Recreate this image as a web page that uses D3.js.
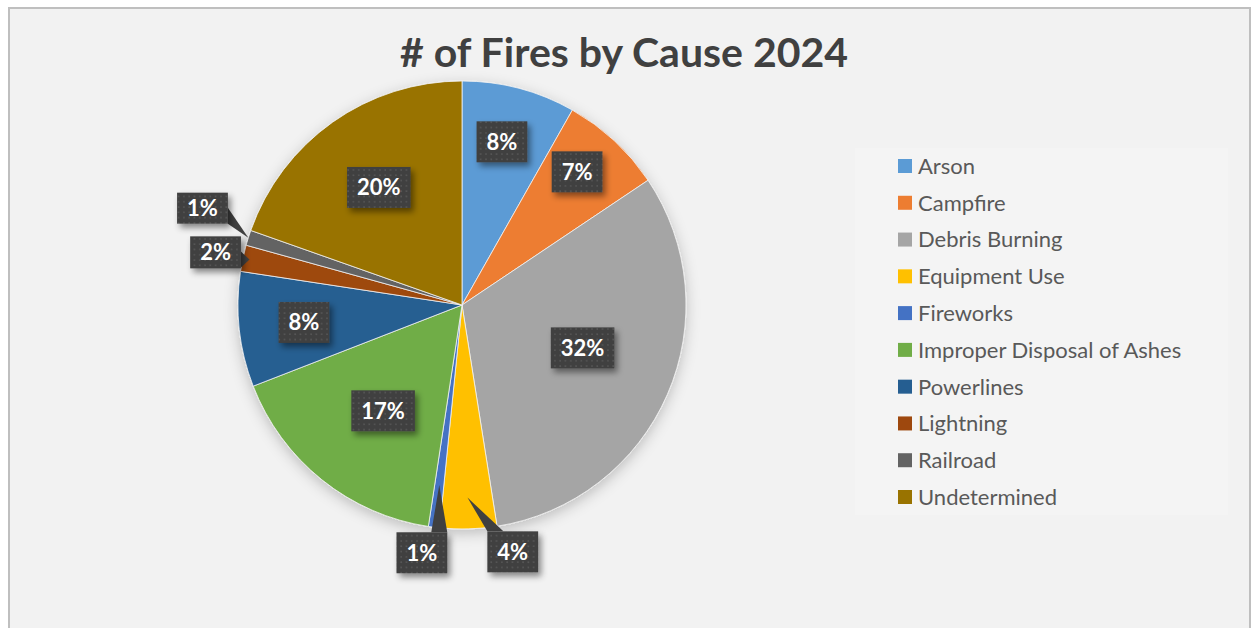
<!DOCTYPE html>
<html>
<head>
<meta charset="utf-8">
<script src="https://cdn.jsdelivr.net/npm/d3@7"></script>
<style>
  body { margin: 0; background: #ffffff; }
  svg { display: block; font-family: Lato, "Open Sans", sans-serif; }
</style>
</head>
<body>
<div id="chart"></div>
<script>
// data (share of fires, in %)
var causes = ["Arson", "Campfire", "Debris Burning", "Equipment Use", "Fireworks",
              "Improper Disposal of Ashes", "Powerlines", "Lightning", "Railroad", "Undetermined"];
var shares = [8.2, 7.4, 31.9, 4.1, 0.8, 16.7, 8.3, 1.9, 1.1, 19.6];
var colors = ["#5B9BD5", "#ED7D31", "#A5A5A5", "#FFC000", "#4472C4",
              "#70AD47", "#255E91", "#9E480E", "#636363", "#997300"];
var title = "# of Fires by Cause 2024";

var W = 1252, H = 628;
var cx = 462, cy = 305, R = 224;

// label placement: radius, angle nudge (deg), box height, callout tip radius
var labelLayout = {
  "Arson": {r: 168, da: -1},
  "Campfire": {r: 176, da: -2},
  "Debris Burning": {r: 128, da: -4},
  "Equipment Use": {r: 252, da: -10, tip: 0.86},
  "Fireworks": {r: 251, da: 2, tip: 0.81},
  "Improper Disposal of Ashes": {r: 132, da: -2},
  "Powerlines": {r: 159, da: 0},
  "Lightning": {r: 252, da: 0, h: 32, tip: 0.97},
  "Railroad": {r: 277, da: 3, h: 31, tip: 1.0},
  "Undetermined": {r: 144, da: 0}
};

var svg = d3.select("#chart").append("svg")
    .attr("width", W)
    .attr("height", H);

var defs = svg.append("defs");

// dotted fill for the label boxes
var pat = defs.append("pattern")
    .attr("id", "dots")
    .attr("width", 5.3)
    .attr("height", 5.3)
    .attr("patternUnits", "userSpaceOnUse");
pat.append("rect").attr("width", 5.3).attr("height", 5.3).attr("fill", "#404040");
pat.append("rect").attr("x", 2).attr("y", 2).attr("width", 1.6).attr("height", 1.6).attr("fill", "#575757");

var sh = defs.append("filter").attr("id", "boxShadow")
    .attr("x", "-30%").attr("y", "-30%").attr("width", "170%").attr("height", "180%");
sh.append("feDropShadow").attr("dx", 3).attr("dy", 4).attr("stdDeviation", 3)
    .attr("flood-color", "#000").attr("flood-opacity", 0.45);

var pieSh = defs.append("filter").attr("id", "pieShadow")
    .attr("x", "-20%").attr("y", "-20%").attr("width", "140%").attr("height", "140%");
pieSh.append("feDropShadow").attr("dx", 0).attr("dy", 4).attr("stdDeviation", 7)
    .attr("flood-color", "#000").attr("flood-opacity", 0.22);

//background + frame
svg.append("rect")
    .attr("x", 9).attr("y", 8)
    .attr("width", 1241).attr("height", 640)
    .attr("fill", "#f2f2f2")
    .attr("stroke", "#bfbfbf")
    .attr("stroke-width", 2);

//title
svg.append("text")
    .attr("x", 624)
    .attr("y", 67)
    .attr("text-anchor", "middle")
    .attr("font-size", 41)
    .attr("font-weight", "bold")
    .attr("fill", "#404040")
    .text(title);

//pie
var pie = d3.pie().sort(null).value(function(d) { return d; });
var arcs = pie(shares);
var arc = d3.arc().innerRadius(0).outerRadius(R);

var g = svg.append("g")
    .attr("transform", "translate(" + cx + "," + cy + ")");

g.append("g")
    .attr("filter", "url(#pieShadow)")
    .selectAll("path")
    .data(arcs)
    .enter()
    .append("path")
    .attr("d", arc)
    .attr("fill", function(d, i) { return colors[i]; })
    .attr("stroke", "#f2f2f2")
    .attr("stroke-width", 0.8);

var total = d3.sum(shares);
var fmt = d3.format(".0%");

function polar(r, a) {
  return [r * Math.sin(a), -r * Math.cos(a)];
}

//labels
var labels = g.append("g");
arcs.forEach(function(d, i) {
  var lay = labelLayout[causes[i]];
  var mid = (d.startAngle + d.endAngle) / 2;
  var a = mid + lay.da * Math.PI / 180;
  var p = polar(lay.r, a);
  var txt = fmt(d.value / total);

  var lg = labels.append("g");
  var t = lg.append("text")
      .attr("x", p[0])
      .attr("y", p[1])
      .attr("dy", "0.36em")
      .attr("text-anchor", "middle")
      .attr("font-size", 22)
      .attr("font-weight", "bold")
      .attr("fill", "#ffffff")
      .text(txt);
  var tw = t.node().getComputedTextLength();
  var bw = tw + 20, bh = lay.h || 41;
  var x0 = p[0] - bw / 2, y0 = p[1] - bh / 2;

  if (lay.tip) {
    // callout: box plus a wedge pointing into the slice
    var tp = polar(R * lay.tip, mid);
    var x1 = x0 + bw, y1 = y0 + bh, b1, b2;
    if (tp[1] < y0) {
      var bx = Math.max(x0, Math.min(x1, tp[0]));
      var l = Math.max(x0, bx - 8), rr = Math.min(x1, l + 16);
      b1 = [l, y0]; b2 = [rr, y0];
    } else {
      var by = Math.max(y0, Math.min(y1, tp[1]));
      var bt = Math.min(y1, by + 8) - 16;
      b1 = [x1, bt]; b2 = [x1, bt + 16];
    }
    lg.insert("path", "text")
        .attr("d", "M" + b1 + "L" + tp + "L" + b2 + "Z")
        .attr("fill", "#404040");
  }
  lg.insert("rect", "text")
      .attr("x", x0).attr("y", y0)
      .attr("width", bw).attr("height", bh)
      .attr("fill", "url(#dots)")
      .attr("filter", "url(#boxShadow)");
});

//legend
var legend = svg.append("g");
legend.append("rect")
    .attr("x", 855).attr("y", 148)
    .attr("width", 373).attr("height", 367)
    .attr("fill", "#f4f4f4");

var ly = d3.scalePoint().domain(causes).range([166, 497]);

var items = legend.selectAll(".item")
    .data(causes)
    .enter()
    .append("g")
    .attr("class", "item")
    .attr("transform", function(d) { return "translate(898," + ly(d) + ")"; });

items.append("rect")
    .attr("x", 0).attr("y", -7)
    .attr("width", 14).attr("height", 14)
    .attr("fill", function(d, i) { return colors[i]; });

items.append("text")
    .attr("x", 20)
    .attr("dy", "0.36em")
    .attr("font-size", 22)
    .attr("fill", "#595959")
    .text(function(d) { return d; });
</script>
</body>
</html>
